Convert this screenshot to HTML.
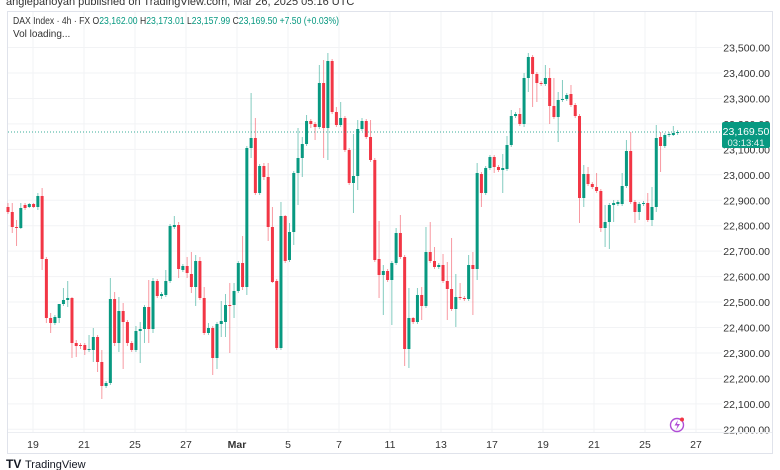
<!DOCTYPE html>
<html><head><meta charset="utf-8"><style>
html,body{margin:0;padding:0;background:#fff;}
body{width:780px;height:470px;overflow:hidden;position:relative;font-family:"Liberation Sans",sans-serif;}
.hdr{position:absolute;left:6px;top:-4px;font-size:11px;color:#333;}
</style></head><body>
<div class="hdr">anglepanoyan published on TradingView.com, Mar 26, 2025 05:16 UTC</div>
<svg id="c" width="780" height="470" style="position:absolute;left:0;top:0" xmlns="http://www.w3.org/2000/svg"></svg>
<script>
var s='';
s+='<rect x="7.5" y="11.5" width="765" height="442" fill="none" stroke="#e0e3eb"/>';
for(var k=0;k<=15;k++){var y=429.3-k*25.45;s+='<line x1="8" x2="722" y1="'+y+'" y2="'+y+'" stroke="#f2f3f5"/>';
var p=22000+k*100;var t=(p/1000|0)+','+String(p%1000).padStart(3,'0')+'.00';
if(y>20)s+='<text x="770" y="'+(y+4)+'" font-size="10.5" fill="#333" text-anchor="end">'+t+'</text>';}
var xs=[33,84,135,186,237,288,339,390,441,492,543,594,645,696];
var lb=['19','21','25','27','Mar','5','7','11','13','17','19','21','25','27'];
for(var i=0;i<xs.length;i++){s+='<line x1="'+xs[i]+'" x2="'+xs[i]+'" y1="12" y2="432" stroke="#f2f3f5"/>';
s+='<text x="'+xs[i]+'" y="448" font-size="10.5" fill="#333" text-anchor="middle"'+(lb[i]=='Mar'?' font-weight="bold"':'')+'>'+lb[i]+'</text>';}
s+='<line x1="8" x2="772" y1="432.5" y2="432.5" stroke="#eceef2"/>';
var C=[[207,212,203,214,0],[212,227,203,233,0],[227,228,220,246,0],[208,228,203,229,1],[205,208,203,210,0],[204,207,203,208,1],[204,207,203,208,0],[196,207,193,210,1],[196,259,188,270,0],[259,318,257,323,0],
[318,323,313,333,0],[317,323,315,325,1],[304,318,304,323,1],[300,304,288,306,1],[298,300,281,307,1],[298,343,297,358,0],[343,346,340,357,0],[345,346,343,349,0],[345,350,343,355,0],[349,350,335,352,1],
[337,350,328,362,1],[337,362,335,372,0],[362,386,350,399,0],[383,386,381,388,1],[299,383,278,385,1],[299,343,292,346,0],[311,343,297,352,1],[311,322,303,369,0],[322,343,320,346,0],[343,350,341,352,0],
[331,350,326,352,1],[329,331,322,363,1],[307,329,305,343,1],[307,329,280,343,0],[281,329,278,333,1],[281,296,279,298,0],[294,296,292,299,1],[281,295,270,297,1],[226,281,224,283,1],[225,227,216,229,1],
[225,269,222,278,0],[266,270,264,272,1],[266,273,257,278,0],[274,287,252,293,0],[261,287,255,306,1],[261,298,257,300,0],[298,333,287,335,0],[328,333,323,335,1],[328,358,326,375,0],[324,358,322,369,1],
[321,324,301,337,1],[305,322,294,337,1],[305,306,283,353,0],[291,305,283,318,1],[263,291,261,293,1],[263,287,236,290,0],[148,287,146,295,1],[138,148,93,158,1],[138,193,118,195,0],[166,193,164,195,1],
[166,177,163,180,0],[177,227,163,241,0],[227,282,207,283,0],[281,348,279,350,0],[216,348,202,350,1],[216,261,215,263,0],[232,260,223,262,1],[173,232,171,245,1],[158,173,128,205,1],[144,158,137,177,1],
[121,144,115,146,1],[121,124,119,128,0],[124,127,122,140,0],[83,127,65,129,1],[83,128,60,158,0],[61,128,53,160,1],[61,112,59,114,0],[112,125,107,127,0],[118,125,102,127,1],[118,150,116,152,0],
[150,183,148,185,0],[176,183,134,213,1],[129,176,120,190,1],[121,129,118,131,1],[121,137,119,139,0],[137,160,120,162,0],[160,260,158,262,0],[259,275,221,298,0],[271,275,265,315,1],[271,280,269,282,0],
[263,280,261,325,1],[233,263,228,265,1],[233,257,215,259,0],[257,349,255,366,0],[318,349,288,368,1],[318,322,317,324,0],[295,322,288,324,1],[295,306,287,320,0],[252,306,227,308,1],[252,261,222,263,0],
[261,267,247,269,0],[265,267,263,269,1],[265,281,254,283,0],[281,289,262,320,0],[289,309,238,311,0],[297,309,274,327,1],[297,298,283,300,0],[298,299,296,301,0],[265,299,255,301,1],[265,269,252,315,0],
[173,269,163,280,1],[174,193,172,207,0],[168,193,166,195,1],[157,168,155,170,1],[157,167,155,173,0],[167,170,165,172,0],[168,170,154,193,1],[145,169,136,171,1],[116,145,110,147,1],[114,116,112,118,1],
[114,124,108,126,0],[78,124,73,127,1],[57,78,53,92,1],[57,74,55,107,0],[74,83,72,102,0],[83,84,81,86,0],[78,84,65,86,1],[78,106,68,124,0],[106,117,78,119,0],[100,117,92,142,1],
[99,100,80,102,1],[95,99,93,101,1],[94,105,85,107,0],[105,116,103,118,0],[116,198,114,223,0],[174,198,165,207,1],[174,184,167,186,0],[184,187,182,189,0],[187,191,173,193,0],[191,228,189,232,0],
[222,228,205,247,1],[205,222,203,249,1],[203,205,200,222,1],[202,204,200,206,1],[186,204,173,206,1],[151,186,140,188,1],[151,202,132,204,0],[202,212,200,223,0],[204,212,202,220,1],[203,204,201,206,1],
[203,220,193,222,0],[207,220,187,226,1],[138,207,125,212,1],[137,146,132,172,0],[135,146,133,148,1],[134,135,132,137,1],[133,135,126,136,1],[132,133,130,135,1]];
for(var i=0;i<C.length;i++){var c=C[i],x=8+i*4.265,col=c[4]?'#089981':'#f23645';
s+='<line x1="'+x+'" x2="'+x+'" y1="'+c[2]+'" y2="'+c[3]+'" stroke="'+col+'" stroke-opacity="0.5" stroke-width="1"/>';
s+='<rect x="'+(x-1.5)+'" y="'+c[0]+'" width="3" height="'+Math.max(1,c[1]-c[0])+'" fill="'+col+'"/>';}
s+='<line x1="8" x2="722" y1="132" y2="132" stroke="#089981" stroke-dasharray="1 2" stroke-opacity="0.8"/>';
s+='<rect x="722" y="122" width="48" height="26" rx="2" fill="#089981"/>';
s+='<text x="746" y="135" font-size="10.5" fill="#fff" text-anchor="middle">23,169.50</text>';
s+='<text x="746" y="146" font-size="9.5" fill="#e6f5f2" text-anchor="middle">03:13:41</text>';
s+='<text x="13" y="24" font-size="10" fill="#333" textLength="326" lengthAdjust="spacingAndGlyphs">DAX Index · 4h · FX  O<tspan fill="#089981">23,162.00</tspan>  H<tspan fill="#089981">23,173.01</tspan>  L<tspan fill="#089981">23,157.99</tspan>  C<tspan fill="#089981">23,169.50</tspan>  <tspan fill="#089981">+7.50 (+0.03%)</tspan></text>';
s+='<text x="13" y="37" font-size="10" fill="#333">Vol loading...</text>';
s+='<circle cx="677" cy="425" r="6.5" fill="none" stroke="#b04cd6" stroke-width="1.4"/><path d="M678 420 L674.5 425.5 L677.5 425.5 L676 430 L680 424 L677 424 Z" fill="#b04cd6"/><circle cx="682" cy="419.5" r="2" fill="#f23645"/>';
s+='<text x="6" y="468" font-size="12" font-weight="bold" fill="#131722">TV</text><text x="25" y="468" font-size="11" fill="#131722">TradingView</text>';
document.getElementById('c').innerHTML=s;
</script>
</body></html>
